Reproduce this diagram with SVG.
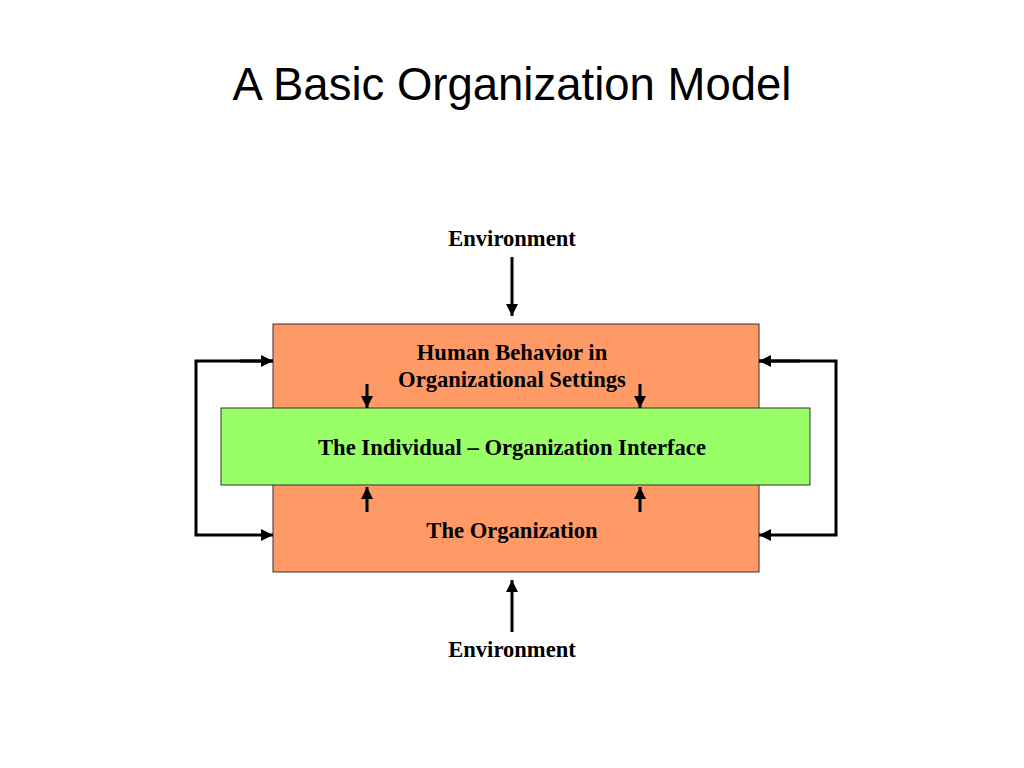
<svg xmlns="http://www.w3.org/2000/svg" width="1024" height="768" viewBox="0 0 1024 768">
<defs>
<style>
.lbl{font-family:"Liberation Serif","Times New Roman",serif;font-weight:bold;font-size:22.6px;fill:#000;text-anchor:middle}
.ln{stroke:#000;stroke-width:3;fill:none}
.box{stroke:#333;stroke-width:1}
</style>
<marker id="ah" viewBox="0 0 10 10" refX="10" refY="5" markerWidth="4" markerHeight="4" orient="auto" markerUnits="strokeWidth">
<path d="M0,0 L10,5 L0,10 z" fill="#000"/>
</marker>
</defs>
<rect width="1024" height="768" fill="#fff"/>
<text x="512" y="100" font-family="Liberation Sans, Arial, sans-serif" font-size="45.5" text-anchor="middle" fill="#000">A Basic Organization Model</text>
<g id="org">
<rect class="box" x="273" y="324" width="486" height="248" fill="#FF9966"/>
<text class="lbl" x="512" y="360">Human Behavior in</text>
<text class="lbl" x="512" y="387">Organizational Settings</text>
<text class="lbl" x="512" y="538">The Organization</text>
</g>
<g id="interface">
<rect class="box" x="221" y="408" width="589" height="77" fill="#99FF66"/>
<text class="lbl" x="512" y="455">The Individual – Organization Interface</text>
</g>
<g id="env-top">
<text class="lbl" x="512" y="246">Environment</text>
</g>
<g id="env-bottom">
<text class="lbl" x="512" y="657">Environment</text>
</g>
<g id="connectors">
<line class="ln" x1="512" y1="257" x2="512" y2="316" marker-end="url(#ah)"/>
<line class="ln" x1="512" y1="632" x2="512" y2="580" marker-end="url(#ah)"/>
<line class="ln" x1="367" y1="384" x2="367" y2="408" marker-end="url(#ah)"/>
<line class="ln" x1="640" y1="384" x2="640" y2="408" marker-end="url(#ah)"/>
<line class="ln" x1="367" y1="512" x2="367" y2="487" marker-end="url(#ah)"/>
<line class="ln" x1="640" y1="512" x2="640" y2="487" marker-end="url(#ah)"/>
<polyline class="ln" points="273,361 196,361 196,535 273,535" marker-end="url(#ah)"/>
<line class="ln" x1="240" y1="361" x2="273" y2="361" marker-end="url(#ah)"/>
<polyline class="ln" points="759,361 836,361 836,535 759,535" marker-end="url(#ah)"/>
<line class="ln" x1="800" y1="361" x2="759" y2="361" marker-end="url(#ah)"/>
</g>
</svg>
